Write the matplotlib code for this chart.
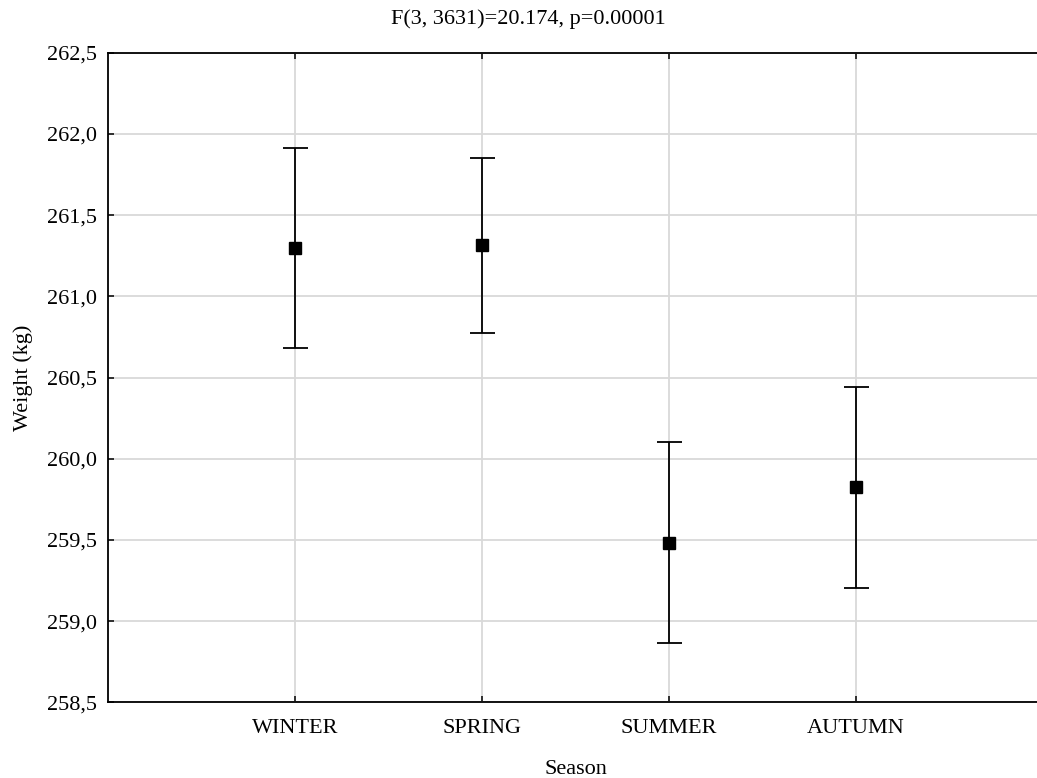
import matplotlib
matplotlib.use("Agg")
import matplotlib.pyplot as plt
from matplotlib.ticker import FuncFormatter, MultipleLocator

# Season means of weight with confidence limits
seasons = ["WINTER", "SPRING", "SUMMER", "AUTUMN"]
means = [261.30, 261.316, 259.483, 259.826]
upper = [261.915, 261.850, 260.105, 260.443]
lower = [260.683, 260.776, 258.867, 259.206]

title_text = "F(3, 3631)=20.174, p=0.00001"

plt.rcParams["font.family"] = ["Liberation Serif", "DejaVu Serif"]
plt.rcParams["font.size"] = 16

fig = plt.figure(figsize=(10.37, 7.78), dpi=100)
ax = fig.add_axes([108 / 1037, 1 - 702.3 / 778, 935 / 1037, (702.3 - 52.7) / 778])

x = list(range(1, len(seasons) + 1))
yerr = [[m - lo for m, lo in zip(means, lower)],
        [hi - m for m, hi in zip(means, upper)]]

ax.errorbar(x, means, yerr=yerr, fmt="s", color="black", ecolor="black",
            markersize=8.5, elinewidth=1.3, capsize=9, capthick=1.3, zorder=3)

ax.set_xlim(0, 5)
ax.set_ylim(258.5, 262.5)
ax.set_xticks(x)
ax.set_xticklabels(seasons)
ax.yaxis.set_major_locator(MultipleLocator(0.5))
ax.yaxis.set_major_formatter(FuncFormatter(lambda v, p: f"{v:.1f}".replace(".", ",")))

ax.grid(True, color="#d9d9d9", linewidth=1.3, zorder=0)
ax.set_axisbelow(True)

ax.tick_params(axis="both", direction="in", length=4, width=1.1, color="black")
ax.tick_params(axis="x", top=True, bottom=True, pad=12)
ax.tick_params(axis="y", left=True, right=False, pad=8)

for side in ["left", "bottom", "top", "right"]:
    ax.spines[side].set_linewidth(1.3)
    ax.spines[side].set_color("black")

fig.text(528 / 1037, 1 - 19 / 778, title_text, fontsize=16, ha="center", va="center")
ax.set_xlabel("Season", fontsize=16, labelpad=16)
ax.set_ylabel("Weight (kg)", fontsize=16, labelpad=10)

fig.savefig("out.png", dpi=100)
